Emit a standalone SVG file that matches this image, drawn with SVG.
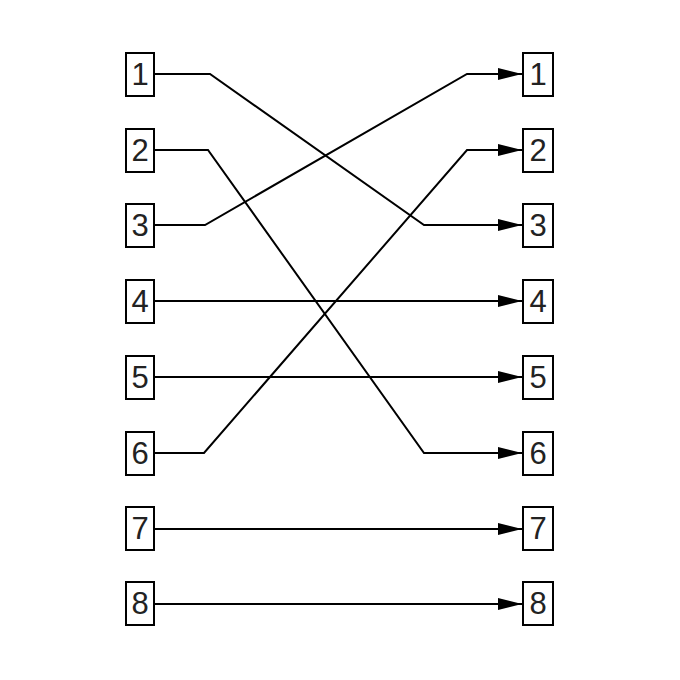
<svg xmlns="http://www.w3.org/2000/svg" width="680" height="680" viewBox="0 0 680 680">
<defs>
<style>
.box{fill:#fff;stroke:#000;stroke-width:2}
.lbl{font-family:"Liberation Sans",Arial,sans-serif;font-size:31px;fill:#222;text-anchor:middle}
.wire{fill:none;stroke:#000;stroke-width:2}
</style>
<marker id="arr" markerUnits="userSpaceOnUse" markerWidth="26" markerHeight="12" refX="24" refY="6" orient="auto">
<path d="M0,0 L24,6 L0,12 Z" fill="#000"/>
</marker>
</defs>
<rect width="680" height="680" fill="#fff"/>
<g id="connectors">
<polyline class="wire" points="154,74 210,74 424,225 522,225" marker-end="url(#arr)"/>
<polyline class="wire" points="154,150 208,150 424,453 522,453" marker-end="url(#arr)"/>
<polyline class="wire" points="154,225 205,225 467,74 522,74" marker-end="url(#arr)"/>
<polyline class="wire" points="154,453 204,453 467,150 522,150" marker-end="url(#arr)"/>
<line class="wire" x1="154" y1="301" x2="522" y2="301" marker-end="url(#arr)"/>
<line class="wire" x1="154" y1="377" x2="522" y2="377" marker-end="url(#arr)"/>
<line class="wire" x1="154" y1="529" x2="522" y2="529" marker-end="url(#arr)"/>
<line class="wire" x1="154" y1="604" x2="522" y2="604" marker-end="url(#arr)"/>
</g>
<g id="L1"><rect class="box" x="126" y="53" width="28" height="43"/><text class="lbl" x="140" y="85">1</text></g>
<g id="L2"><rect class="box" x="126" y="129" width="28" height="43"/><text class="lbl" x="140" y="161">2</text></g>
<g id="L3"><rect class="box" x="126" y="204" width="28" height="43"/><text class="lbl" x="140" y="236">3</text></g>
<g id="L4"><rect class="box" x="126" y="280" width="28" height="43"/><text class="lbl" x="140" y="312">4</text></g>
<g id="L5"><rect class="box" x="126" y="356" width="28" height="43"/><text class="lbl" x="140" y="388">5</text></g>
<g id="L6"><rect class="box" x="126" y="432" width="28" height="43"/><text class="lbl" x="140" y="464">6</text></g>
<g id="L7"><rect class="box" x="126" y="507" width="28" height="43"/><text class="lbl" x="140" y="539">7</text></g>
<g id="L8"><rect class="box" x="126" y="582" width="28" height="43"/><text class="lbl" x="140" y="614">8</text></g>
<g id="R1"><rect class="box" x="523" y="53" width="30" height="43"/><text class="lbl" x="538" y="85">1</text></g>
<g id="R2"><rect class="box" x="523" y="129" width="30" height="43"/><text class="lbl" x="538" y="161">2</text></g>
<g id="R3"><rect class="box" x="523" y="204" width="30" height="43"/><text class="lbl" x="538" y="236">3</text></g>
<g id="R4"><rect class="box" x="523" y="280" width="30" height="43"/><text class="lbl" x="538" y="312">4</text></g>
<g id="R5"><rect class="box" x="523" y="356" width="30" height="43"/><text class="lbl" x="538" y="388">5</text></g>
<g id="R6"><rect class="box" x="523" y="432" width="30" height="43"/><text class="lbl" x="538" y="464">6</text></g>
<g id="R7"><rect class="box" x="523" y="507" width="30" height="43"/><text class="lbl" x="538" y="539">7</text></g>
<g id="R8"><rect class="box" x="523" y="582" width="30" height="43"/><text class="lbl" x="538" y="614">8</text></g>
</svg>
